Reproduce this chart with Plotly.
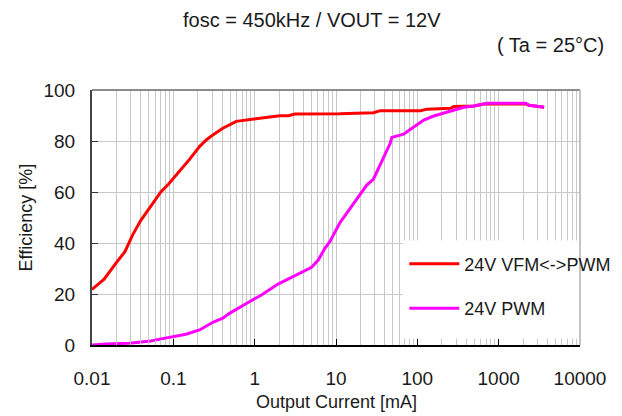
import plotly.graph_objects as go

# ---- data ----
vfm_current = [0.01, 0.0141, 0.0196, 0.0254, 0.0315, 0.04, 0.0506, 0.0705, 0.0875, 0.119,
               0.158, 0.21, 0.254, 0.306, 0.406, 0.594, 0.953, 2.04, 2.6, 3.12,
               11.2, 28.9, 34.9, 109, 132, 255, 281, 496, 659, 2155, 2366, 3000, 3624]
vfm_eff = [21.8, 25.8, 32, 36.6, 43.1, 49, 53.6, 60.1, 63.1, 68,
           72.8, 77.8, 80.4, 82.4, 85, 87.7, 88.5, 89.9, 89.9, 90.6,
           90.7, 91.1, 91.9, 91.9, 92.5, 92.8, 93.5, 93.7, 94.5, 94.5, 94, 93.7, 93.2]

pwm_current = [0.01, 0.0148, 0.0286, 0.04, 0.0531, 0.0738, 0.103, 0.143, 0.21, 0.306,
               0.406, 0.49, 0.79, 1.21, 1.94, 2.97, 5.01, 6.05, 7.3, 8.4, 9.27,
               11.2, 13.5, 23.9, 28.9, 40.3, 46.4, 48.6, 67.8, 85.9, 120,
               159, 281, 373, 496, 725, 2155, 2366, 3624]
pwm_eff = [0, 0.4, 0.7, 1.3, 1.6, 2.5, 3.5, 4.2, 5.9, 8.9,
           10.5, 12.4, 16.3, 19.6, 23.9, 26.8, 30.5, 33.3, 37.9, 40.5, 43.1,
           48, 51.6, 62.7, 65.1, 74.5, 79.1, 81.4, 82.7, 85, 88.2,
           89.8, 92.2, 93.2, 93.7, 94.8, 94.8, 94, 93.2]

x_tickvals = [0.01, 0.1, 1, 10, 100, 1000, 10000]
x_ticktext = ["0.01", "0.1", "1", "10", "100", "1000", "10000"]
y_tickvals = [0, 20, 40, 60, 80, 100]

series_names = ["24V VFM<->PWM", "24V PWM"]
title_text = "fosc = 450kHz / VOUT = 12V"
cond_text = "( Ta = 25°C)"
x_title = "Output Current [mA]"
y_title = "Efficiency [%]"

FONT = "Liberation Sans, Arial, sans-serif"
TXT = "#1a1a1a"
GRID = "#c8c8c8"

fig = go.Figure()
fig.add_trace(go.Scatter(x=vfm_current, y=vfm_eff, mode="lines", name=series_names[0],
                         legendgroup="a",
                         line=dict(color="#ff0000", width=3)))
fig.add_trace(go.Scatter(x=pwm_current, y=pwm_eff, mode="lines", name=series_names[1],
                         legendgroup="b",
                         line=dict(color="#ff00ff", width=3)))

# white panel behind the legend (covers gridlines, leaves bottom tick stubs)
fig.add_shape(type="rect", xref="paper", yref="paper", x0=0.637, x1=1, y0=0.025, y1=0.41,
              fillcolor="white", line=dict(width=0), layer="above")
# top and right frame in grey
fig.add_shape(type="line", xref="paper", yref="paper", x0=0, x1=1, y0=1, y1=1,
              line=dict(color="#8c8c8c", width=2), layer="above")
fig.add_shape(type="line", xref="paper", yref="paper", x0=1, x1=1, y0=0, y1=1,
              line=dict(color="#b0b0b0", width=1.5), layer="above")

# page body adds an 8px margin, so the figure is 8px smaller than the window
fig.update_layout(
    width=614, height=408,
    margin=dict(l=84, r=42, t=82, b=71, autoexpand=False),
    paper_bgcolor="white", plot_bgcolor="white",
    font=dict(family=FONT, size=18, color=TXT),
    showlegend=True,
    legend=dict(x=0.64, y=0.39, xanchor="left", yanchor="top",
                bgcolor="rgba(0,0,0,0)", font=dict(size=18, color=TXT),
                itemwidth=50, tracegroupgap=18),
    annotations=[
        dict(text=title_text, xref="paper", yref="paper", x=0.451, y=1, yshift=70,
             xanchor="center", yanchor="middle", showarrow=False, font=dict(size=20, color=TXT)),
        dict(text=cond_text, xref="paper", yref="paper", x=1, xshift=26, y=1, yshift=45,
             xanchor="right", yanchor="middle", showarrow=False, font=dict(size=20, color=TXT)),
        dict(text=x_title, xref="paper", yref="paper", x=0.5, y=0, yshift=-57,
             xanchor="center", yanchor="middle", showarrow=False, font=dict(size=18, color=TXT)),
        dict(text=y_title, xref="paper", yref="paper", x=0, xshift=-67, y=0.5,
             xanchor="center", yanchor="middle", textangle=-90, showarrow=False,
             font=dict(size=18, color=TXT)),
    ],
)

fig.update_xaxes(
    type="log", range=[-2, 4], automargin=False,
    tickmode="array", tickvals=x_tickvals, ticktext=x_ticktext,
    ticks="inside", ticklen=6, tickcolor="#000000", tickwidth=1,
    tickfont=dict(size=19, color=TXT), ticklabelstandoff=15,
    showgrid=True, gridcolor=GRID, gridwidth=1,
    minor=dict(dtick="D1", showgrid=True, gridcolor=GRID, gridwidth=1,
               ticks="inside", ticklen=5, tickcolor=GRID),
    showline=True, linecolor="#000000", linewidth=1.5,
    zeroline=False,
)
fig.update_yaxes(
    range=[0, 100], automargin=False, tickmode="array", tickvals=y_tickvals,
    ticks="inside", ticklen=6, tickcolor="#333333",
    tickfont=dict(size=19, color=TXT), ticklabelstandoff=11,
    showgrid=True, gridcolor=GRID, gridwidth=1,
    showline=True, linecolor="#444444", linewidth=2,
    zeroline=False,
)

fig.write_html("out.html")
